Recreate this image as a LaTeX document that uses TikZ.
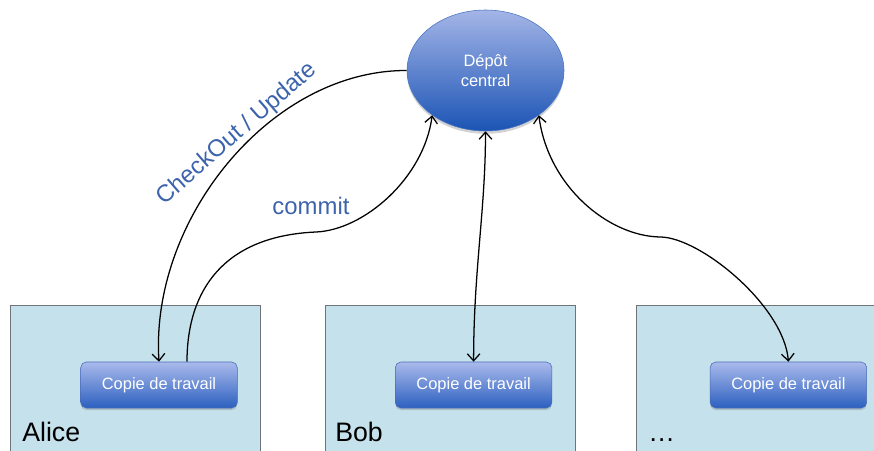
\documentclass[tikz,border=0pt]{standalone}
\usepackage{fontspec}
\setmainfont{Liberation Sans}
\usetikzlibrary{arrows.meta}
\usetikzlibrary{shapes.geometric}
\usetikzlibrary{shadows}

\definecolor{posteFond}{HTML}{C5E1EB}
\definecolor{posteBord}{HTML}{6E7478}
\definecolor{copieHaut}{HTML}{AABAEC}
\definecolor{copieBas}{HTML}{2C60BF}
\definecolor{copieBord}{HTML}{4A6CB8}
\definecolor{depotHaut}{HTML}{A4B5E7}
\definecolor{depotBas}{HTML}{1B54B5}
\definecolor{texteBleu}{HTML}{3C63AB}

\tikzset{
  poste/.style={draw=posteBord, line width=0.8pt, fill=posteFond, anchor=north west,
    minimum width=6.25cm, minimum height=4.125cm, inner sep=0pt},
  copie/.style={draw=copieBord, rounded corners=4pt, top color=copieHaut, bottom color=copieBas,
    minimum width=3.915cm, minimum height=1.15cm, text=white,
    font=\fontsize{11.7}{14}\selectfont, drop shadow={shadow xshift=0pt, shadow yshift=-1.5pt, opacity=0.35}},
  nomposte/.style={anchor=base west, inner sep=0pt, font=\fontsize{19}{22}\selectfont},
  etiquette/.style={text=texteBleu, inner sep=1pt, font=\fontsize{17}{20}\selectfont},
  fleche/.style={line width=0.9pt, >={Straight Barb[length=5pt,width=9pt]}}
}

\begin{document}
\begin{tikzpicture}
    \useasboundingbox (0, 0) rectangle (21.85, 11.25);

    % les postes de travail
    \node [poste] (alice) at (0.25, 3.625) {};
    \node [poste] (bob) at (8.125, 3.625) {};
    \node [poste] (autres) at (15.9, 3.625) {};

    \node [nomposte] (nomA) at (0.55, 0.225) {Alice};
    \node [nomposte] (nomB) at (8.375, 0.225) {Bob};
    \node [nomposte] (nomC) at (16.2, 0.225) {\dots};

    \node [copie] (copieA) at (3.975, 1.625) {Copie de travail};
    \node [copie] (copieB) at (11.84, 1.625) {Copie de travail};
    \node [copie] (copieC) at (19.71, 1.625) {Copie de travail};

    % le depot
    \node [ellipse, draw=depotBas!80, top color=depotHaut, bottom color=depotBas,
      minimum width=3.925cm, minimum height=3.025cm, inner sep=0pt, text=white,
      align=center, font=\fontsize{11.7}{14}\selectfont,
      drop shadow={shadow xshift=0pt, shadow yshift=-2pt, opacity=0.35}]
      (depot) at (12.1375, 9.4875) {D\'ep\^ot\\central};

    % les echanges
    \draw [fleche, ->] (depot.west) .. controls (6.75, 9.5) and (3.75, 5.75) .. (copieA.north);
    \draw [fleche, ->] ([xshift=0.7cm]copieA.north) .. controls (4.675, 4.0) and (5.6, 5.35) .. (7.9, 5.45)
      .. controls (9.1, 5.5) and (10.6, 6.8) .. (depot.-140);
    \draw [fleche, <->] (depot.south) .. controls (12.1375, 6.0) and (11.84, 4.5) .. (copieB.north);
    \draw [fleche, <->] (depot.-40) .. controls (13.7, 6.6) and (15.2, 5.35) .. (16.5, 5.325)
      .. controls (17.5, 5.325) and (19.6, 3.6) .. (copieC.north);

    \node [etiquette, rotate=41] (checkout) at (5.925, 7.9) {CheckOut / Update};
    \node [etiquette] (commit) at (7.775, 6.1) {commit};
  \end{tikzpicture}
\end{document}
